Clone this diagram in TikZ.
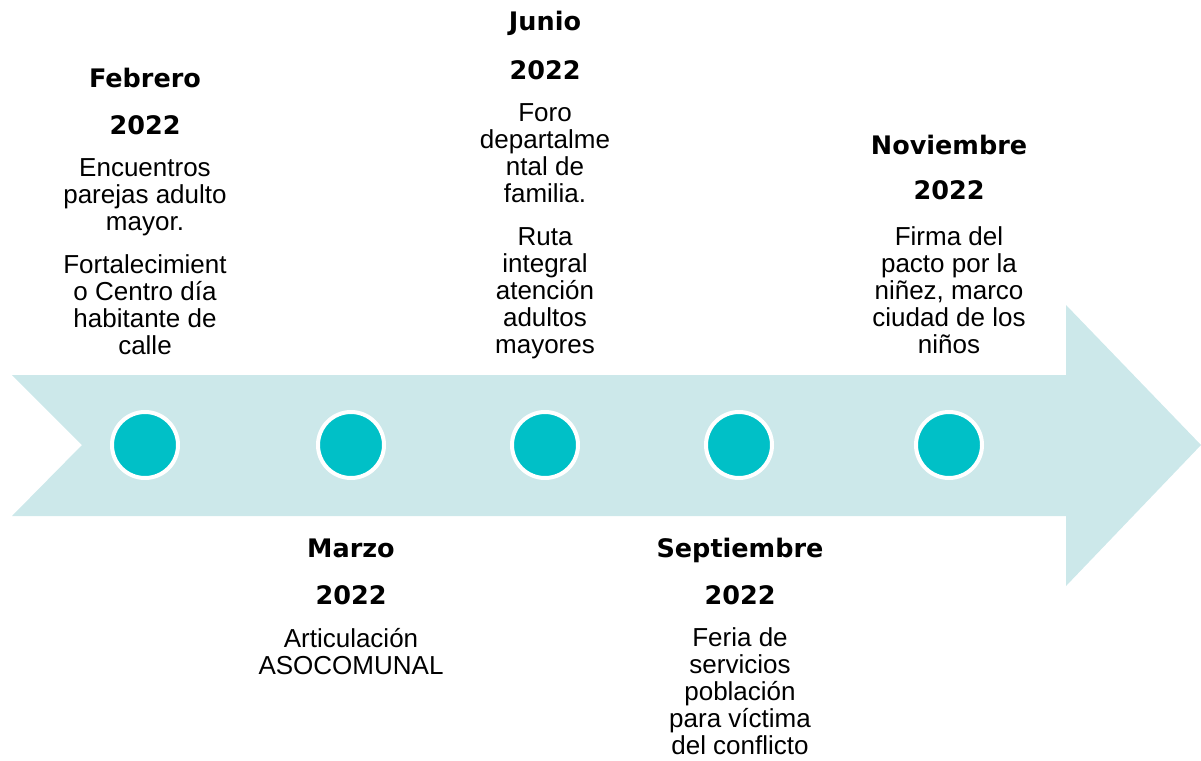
\documentclass[tikz,border=0pt]{standalone}
\usepackage{fontspec}
\setmainfont{Liberation Sans}
\newfontfamily\headfont{DejaVu Sans}[BoldFont={DejaVu Sans Bold}]
\usetikzlibrary{positioning}

\definecolor{bandcolor}{RGB}{204,232,234}
\definecolor{dotcolor}{RGB}{0,192,199}

\begin{document}
\begin{tikzpicture}[x=1pt, y=-1pt,
  dot/.style={circle, fill=dotcolor, draw=white, line width=4pt, minimum size=66pt, inner sep=0pt},
  month/.style={font=\headfont\bfseries\fontsize{25.5}{30}\selectfont, inner sep=0pt, anchor=base},
  info/.style={font=\fontsize{26}{27}\selectfont, align=center, inner sep=0pt, anchor=north}]
  \useasboundingbox (0,0) rectangle (1201,760);

  % Band
  \fill[bandcolor] (12,375) -- (1066,375) -- (1066,305) -- (1201,445) -- (1066,586)
    -- (1066,516) -- (12,516) -- (82,445) -- cycle;

  % Dots
  \node[dot] (dotfeb) at (145,445) {};
  \node[dot] (dotmar) at (351,445) {};
  \node[dot] (dotjun) at (545,445) {};
  \node[dot] (dotsep) at (739,445) {};
  \node[dot] (dotnov) at (949,445) {};

  % Febrero
  \node[month] (febmonth) at (145,87) {Febrero};
  \node[month] (febyear) at (145,134) {2022};
  \node[info] (febtexta) at (145,158) {Encuentros\\parejas adulto\\mayor.};
  \node[info] (febtextb) at (145,254) {Fortalecimient\\o Centro día\\habitante de\\calle};

  % Marzo
  \node[month] (marmonth) at (351,557) {Marzo};
  \node[month] (maryear) at (351,604) {2022};
  \node[info] (martext) at (351,628) {Articulación\\ASOCOMUNAL};

  % Junio
  \node[month] (junmonth) at (545,31) {Junio};
  \node[month] (junyear) at (545,79) {2022};
  \node[info] (juntexta) at (545,103) {Foro\\departalme\\ntal de\\familia.};
  \node[info] (juntextb) at (545,227) {Ruta\\integral\\atención\\adultos\\mayores};

  % Septiembre
  \node[month] (sepmonth) at (740,557) {Septiembre};
  \node[month] (sepyear) at (740,604) {2022};
  \node[info] (septext) at (740,627) {Feria de\\servicios\\población\\para víctima\\del conflicto};

  % Noviembre
  \node[month] (novmonth) at (949,154) {Noviembre};
  \node[month] (novyear) at (949,199) {2022};
  \node[info] (novtext) at (949,226) {Firma del\\pacto por la\\niñez, marco\\ciudad de los\\niños};
\end{tikzpicture}
\end{document}
